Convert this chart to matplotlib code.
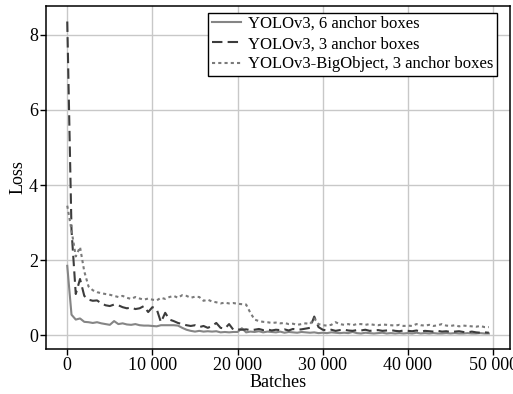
import matplotlib
matplotlib.use("Agg")
import matplotlib.pyplot as plt
from matplotlib.ticker import FuncFormatter

# batch index for every logged point (one value every 500 batches)
batches = list(range(0, 50000, 500))

loss_6_anchor = [
    1.85, 0.55, 0.42, 0.45, 0.36, 0.35, 0.33, 0.35, 0.32, 0.30,
    0.28, 0.38, 0.30, 0.32, 0.29, 0.28, 0.30, 0.27, 0.26, 0.26,
    0.25, 0.24, 0.27, 0.27, 0.27, 0.27, 0.26, 0.20, 0.15, 0.12,
    0.10, 0.12, 0.10, 0.11, 0.10, 0.11, 0.08, 0.09, 0.08, 0.09,
    0.09, 0.19, 0.08, 0.10, 0.09, 0.11, 0.08, 0.10, 0.09, 0.08,
    0.10, 0.07, 0.09, 0.08, 0.07, 0.09, 0.08, 0.07, 0.08, 0.06,
    0.07, 0.06, 0.08, 0.07, 0.06, 0.07, 0.06, 0.09, 0.06, 0.05,
    0.07, 0.06, 0.05, 0.06, 0.07, 0.05, 0.06, 0.05, 0.06, 0.05,
    0.06, 0.05, 0.07, 0.05, 0.06, 0.05, 0.06, 0.05, 0.05, 0.06,
    0.05, 0.06, 0.05, 0.05, 0.06, 0.05, 0.05, 0.06, 0.05, 0.05,
]

loss_3_anchor = [
    8.35, 2.80, 1.10, 1.50, 1.05, 0.95, 0.92, 0.93, 0.85, 0.80,
    0.78, 0.82, 0.80, 0.75, 0.72, 0.74, 0.70, 0.72, 0.78, 0.62,
    0.75, 0.70, 0.35, 0.60, 0.42, 0.38, 0.33, 0.30, 0.27, 0.25,
    0.27, 0.22, 0.25, 0.20, 0.25, 0.33, 0.20, 0.18, 0.30, 0.15,
    0.16, 0.15, 0.16, 0.14, 0.15, 0.17, 0.14, 0.16, 0.13, 0.15,
    0.14, 0.16, 0.13, 0.17, 0.15, 0.16, 0.18, 0.20, 0.50, 0.22,
    0.15, 0.13, 0.15, 0.12, 0.14, 0.15, 0.13, 0.12, 0.14, 0.13,
    0.15, 0.12, 0.13, 0.14, 0.12, 0.13, 0.14, 0.12, 0.11, 0.13,
    0.12, 0.11, 0.13, 0.10, 0.12, 0.11, 0.10, 0.12, 0.10, 0.11,
    0.09, 0.10, 0.11, 0.09, 0.08, 0.10, 0.08, 0.07, 0.08, 0.07,
]

loss_big_object = [
    3.45, 2.80, 2.10, 2.35, 1.70, 1.30, 1.20, 1.15, 1.12, 1.10,
    1.08, 1.05, 1.02, 1.05, 1.00, 0.97, 1.02, 0.98, 0.95, 0.98,
    0.95, 0.93, 1.00, 0.97, 1.02, 1.05, 1.00, 1.07, 1.05, 1.00,
    1.03, 1.02, 0.92, 0.95, 0.90, 0.88, 0.85, 0.87, 0.85, 0.86,
    0.84, 0.83, 0.82, 0.60, 0.42, 0.38, 0.36, 0.35, 0.33, 0.34,
    0.32, 0.33, 0.30, 0.31, 0.28, 0.30, 0.32, 0.30, 0.45, 0.30,
    0.27, 0.26, 0.28, 0.35, 0.30, 0.28, 0.30, 0.27, 0.30, 0.30,
    0.28, 0.30, 0.28, 0.27, 0.29, 0.28, 0.27, 0.26, 0.28, 0.25,
    0.26, 0.25, 0.30, 0.27, 0.26, 0.28, 0.25, 0.27, 0.30, 0.26,
    0.25, 0.27, 0.24, 0.26, 0.25, 0.24, 0.23, 0.25, 0.22, 0.22,
]

series_labels = [
    "YOLOv3, 6 anchor boxes",
    "YOLOv3, 3 anchor boxes",
    "YOLOv3-BigObject, 3 anchor boxes",
]

plt.rcParams.update({
    "font.family": "Liberation Serif",
    "font.size": 12,
    "axes.linewidth": 1.1,
    "xtick.direction": "out",
    "ytick.direction": "out",
})

fig = plt.figure(figsize=(5.13, 3.94), dpi=100)
ax = fig.add_axes([0.090, 0.114, 0.904, 0.871])

ax.plot(batches, loss_6_anchor, color="#858585", linestyle="-", linewidth=1.5, label=series_labels[0])
ax.plot(batches, loss_3_anchor, color="#3c3c3c", linestyle=(0, (5, 2.5)), linewidth=1.5, label=series_labels[1])
ax.plot(batches, loss_big_object, color="#7a7a7a", linestyle=(0, (1.5, 1.5)), linewidth=1.5, label=series_labels[2])

ax.grid(True, color="#c8c8c8", linewidth=1.0)
ax.set_axisbelow(True)
ax.set_xticks([0, 10000, 20000, 30000, 40000, 50000])
ax.set_yticks([0, 2, 4, 6, 8])
ax.xaxis.set_major_formatter(FuncFormatter(lambda v, _: f"{int(v):,}".replace(",", " ")))
ax.tick_params(labelsize=13, length=4, width=1, pad=2)
ax.set_xlabel("Batches", fontsize=13, labelpad=0)
ax.set_ylabel("Loss", fontsize=13, labelpad=2)

leg = ax.legend(loc="upper right", bbox_to_anchor=(0.972, 0.98), borderaxespad=0,
                fontsize=12, fancybox=False, framealpha=1, edgecolor="black",
                handlelength=1.75, handletextpad=0.45, labelspacing=0.25, borderpad=0.2)
leg.get_frame().set_linewidth(1.0)

fig.savefig("out.png", dpi=100)
